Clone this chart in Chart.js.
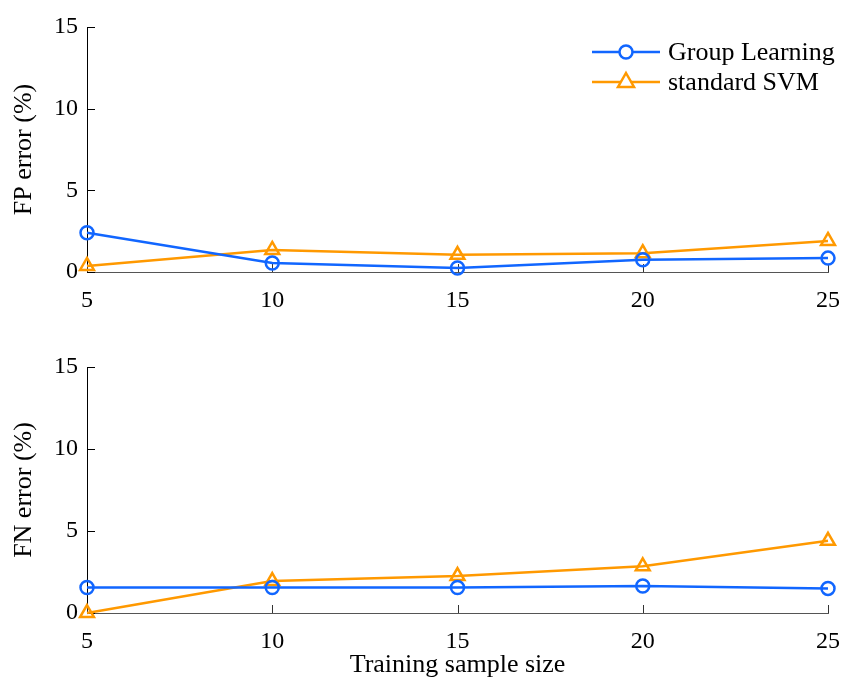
<!DOCTYPE html>
<html>
<head>
<meta charset="utf-8">
<script src="https://cdn.jsdelivr.net/npm/chart.js@4/dist/chart.umd.min.js"></script>
<style>
  html, body { margin: 0; padding: 0; background: #fff; overflow: hidden; }
  #wrap { position: relative; width: 855px; height: 679px; overflow: hidden; }
  .box { position: absolute; left: 0; width: 855px; }
</style>
</head>
<body>
<div id="wrap">
  <div class="box" style="top:0;height:325px"><canvas id="fpChart"></canvas></div>
  <div class="box" style="top:340px;height:343px"><canvas id="fnChart"></canvas></div>
</div>
<script>
// ---- data ----
const sampleSizes = [5, 10, 15, 20, 25];
const yTicks = [0, 5, 10, 15];
const seriesNames = ["Group Learning", "standard SVM"];
const fpGroup = [2.4, 0.55, 0.25, 0.75, 0.85];
const fpSvm = [0.37, 1.35, 1.05, 1.15, 1.9];
const fnGroup = [1.55, 1.55, 1.55, 1.65, 1.5];
const fnSvm = [0, 1.95, 2.25, 2.85, 4.4];

const BLUE = "#1166ff";
const ORANGE = "#ff9900";
const FONT = "'Liberation Serif', 'DejaVu Serif', serif";

// inward tick marks, drawn from the library's scales
const innerTicks = {
  id: "innerTicks",
  beforeDatasetsDraw(chart) {
    const ctx = chart.ctx;
    const area = chart.chartArea;
    const xs = chart.scales.x, ys = chart.scales.y;
    ctx.save();
    ctx.lineWidth = 1;
    ctx.strokeStyle = "#333";
    sampleSizes.forEach(v => {
      const px = Math.round(xs.getPixelForValue(v)) + 0.5;
      ctx.beginPath();
      ctx.moveTo(px, area.bottom);
      ctx.lineTo(px, area.bottom - 8);
      ctx.stroke();
    });
    ctx.strokeStyle = "#000";
    yTicks.forEach(v => {
      const py = Math.round(ys.getPixelForValue(v)) + 0.5;
      ctx.beginPath();
      ctx.moveTo(area.left, py);
      ctx.lineTo(area.left + 8, py);
      ctx.stroke();
    });
    ctx.restore();
  }
};

// legend with line + marker samples
const lineLegend = {
  id: "lineLegend",
  afterDraw(chart, args, opts) {
    if (!opts.display) return;
    const ctx = chart.ctx;
    const items = [
      { name: seriesNames[0], color: BLUE, style: "circle" },
      { name: seriesNames[1], color: ORANGE, style: "triangle" }
    ];
    ctx.save();
    items.forEach((it, i) => {
      const y = 52 + i * 30;
      ctx.strokeStyle = it.color;
      ctx.lineWidth = 2.5;
      ctx.beginPath();
      ctx.moveTo(592, y);
      ctx.lineTo(660, y);
      ctx.stroke();
      ctx.fillStyle = "#fff";
      ctx.beginPath();
      if (it.style === "circle") {
        ctx.arc(626, y, 6.5, 0, Math.PI * 2);
      } else {
        ctx.moveTo(626, y - 9);
        ctx.lineTo(634, y + 5);
        ctx.lineTo(618, y + 5);
        ctx.closePath();
      }
      ctx.fill();
      ctx.stroke();
      ctx.fillStyle = "#000";
      ctx.font = "26px " + FONT;
      ctx.textBaseline = "middle";
      ctx.textAlign = "left";
      ctx.fillText(it.name, 668, y + 1);
    });
    ctx.restore();
  }
};

function makeChart(id, groupVals, svmVals, yTitle, xTitle, xHeight, legend) {
  const ds = (label, vals, color, style, r) => ({
    label,
    data: sampleSizes.map((x, i) => ({ x, y: vals[i] })),
    borderColor: color,
    borderWidth: 2.5,
    pointStyle: style,
    pointRadius: r,
    pointBorderWidth: 2.5,
    pointBorderColor: color,
    pointBackgroundColor: "rgba(255,255,255,0)",
    tension: 0,
    clip: false
  });
  return new Chart(document.getElementById(id), {
    type: "line",
    data: {
      datasets: [
        ds(seriesNames[0], groupVals, BLUE, "circle", 6.5),
        ds(seriesNames[1], svmVals, ORANGE, "triangle", 8)
      ]
    },
    options: {
      responsive: true,
      maintainAspectRatio: false,
      animation: false,
      layout: { padding: { top: 27, right: 27, left: 0, bottom: 0 } },
      plugins: {
        legend: { display: false },
        tooltip: { enabled: false },
        lineLegend: { display: legend }
      },
      scales: {
        x: {
          type: "linear",
          min: 5, max: 25,
          afterFit: s => { s.height = xHeight; },
          afterBuildTicks: s => { s.ticks = sampleSizes.map(v => ({ value: v })); },
          grid: { display: false, drawTicks: false },
          border: { display: true, color: "#555", width: 1 },
          ticks: { color: "#000", padding: 14, font: { family: FONT, size: 24 }, maxRotation: 0 },
          title: {
            display: !!xTitle, text: xTitle, color: "#000",
            font: { family: FONT, size: 26 }, padding: { top: 0, bottom: 2 }
          }
        },
        y: {
          min: 0, max: 15,
          afterFit: s => { s.width = 87; },
          afterBuildTicks: s => { s.ticks = yTicks.map(v => ({ value: v })); },
          grid: { display: false, drawTicks: false },
          border: { display: true, color: "#000", width: 1 },
          ticks: { color: "#000", padding: 9, font: { family: FONT, size: 24 } },
          title: {
            display: true, text: yTitle, color: "#000",
            font: { family: FONT, size: 26 }, padding: { top: 9, bottom: 0 }
          }
        }
      }
    },
    plugins: [innerTicks, lineLegend]
  });
}

makeChart("fpChart", fpGroup, fpSvm, "FP error (%)", "", 53, true);
makeChart("fnChart", fnGroup, fnSvm, "FN error (%)", "Training sample size", 70, false);
</script>
</body>
</html>
